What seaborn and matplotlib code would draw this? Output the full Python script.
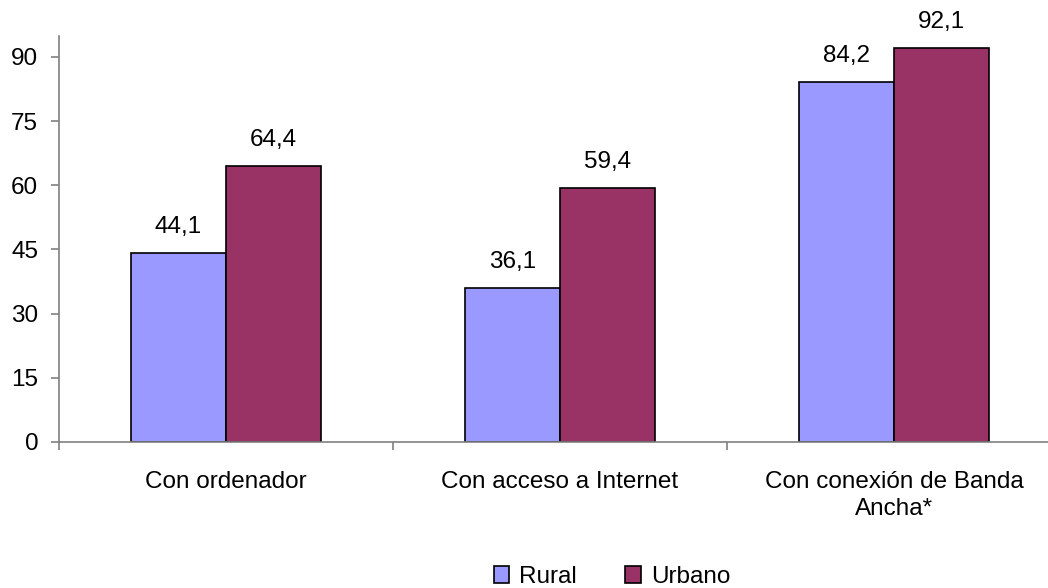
import numpy as np
import pandas as pd
import matplotlib
matplotlib.use("Agg")
import matplotlib.pyplot as plt
import seaborn as sns
from matplotlib.ticker import FixedLocator

# ── Data ──────────────────────────────────────────────────────────────────
categorias = ["Con ordenador", "Con acceso a Internet",
              "Con conexión de Banda\nAncha*"]
rural  = [44.1, 36.1, 84.2]
urbano = [64.4, 59.4, 92.1]
series = ["Rural", "Urbano"]
y_ticks = [0, 15, 30, 45, 60, 75, 90]

df = pd.DataFrame({
    "categoria": categorias * 2,
    "valor": rural + urbano,
    "serie": [series[0]] * 3 + [series[1]] * 3,
})

sns.set_theme(style="white")
plt.rcParams["font.family"] = ["Liberation Sans", "DejaVu Sans"]
plt.rcParams["text.color"] = "black"

FS = 17.5

fig = plt.figure(figsize=(10.48, 5.88), dpi=100)
ax = fig.add_axes([59 / 1048, 1 - 442 / 588, 1002 / 1048, 406 / 588])

palette = {"Rural": "#9999FF", "Urbano": "#993366"}
sns.barplot(data=df, x="categoria", y="valor", hue="serie",
            palette=palette, width=0.57, gap=0, edgecolor="black",
            linewidth=1.2, saturation=1, ax=ax, legend=False)

# value labels
for cont in ax.containers:
    for bar in cont:
        h = bar.get_height()
        ax.annotate(f"{h:.1f}".replace(".", ","),
                    (bar.get_x() + bar.get_width() / 2, h),
                    xytext=(0, 14.4), textcoords="offset points",
                    ha="center", va="baseline", fontsize=FS, color="black")

ax.set_xlim(-0.5, 2.5)
ax.set_ylim(0, 94.9)
ax.set_yticks(y_ticks)
ax.set_xlabel("")
ax.set_ylabel("")

for s in ["top", "right"]:
    ax.spines[s].set_visible(False)
for s in ["left", "bottom"]:
    ax.spines[s].set_color("#808080")
    ax.spines[s].set_linewidth(1.2)

ax.tick_params(axis="y", which="major", left=True, length=6, width=1.2,
               color="#808080", labelsize=FS, pad=9, labelcolor="black")
ax.tick_params(axis="x", which="major", bottom=False, labelsize=FS,
               pad=15, labelcolor="black")
ax.xaxis.set_minor_locator(FixedLocator([-0.5, 0.5, 1.5, 2.5]))
ax.tick_params(axis="x", which="minor", bottom=True, length=6, width=1.2,
               color="#808080")
for lbl in ax.get_xticklabels():
    lbl.set_linespacing(1.3)

handles = [plt.Rectangle((0, 0), 1, 1, facecolor=palette[s],
                         edgecolor="black", linewidth=1.2) for s in series]
fig.legend(handles, series, loc="center",
           bbox_to_anchor=(612 / 1048, 1 - 577 / 588), ncol=2,
           frameon=False, fontsize=FS, handlelength=0.65, handleheight=0.65,
           handletextpad=0.4, columnspacing=2.0)

fig.savefig("out.png", dpi=100)
